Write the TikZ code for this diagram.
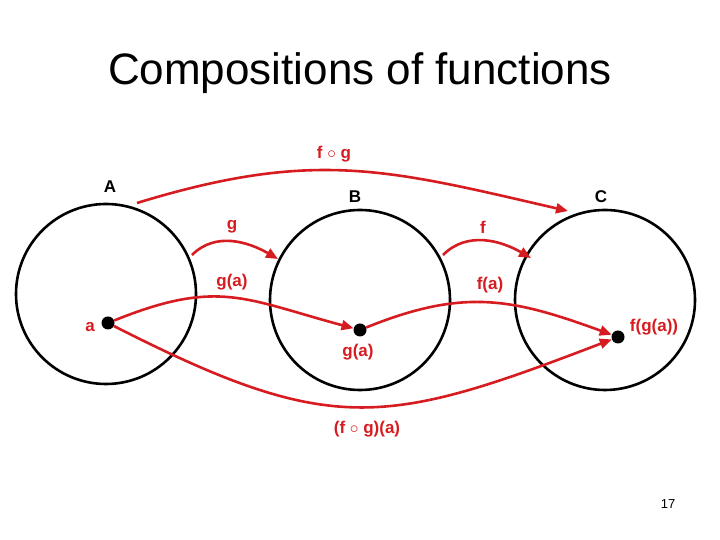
\documentclass[tikz,border=0pt]{standalone}
\usepackage{fontspec}
\setmainfont{Liberation Sans}
\usetikzlibrary{positioning, arrows.meta}
\definecolor{fred}{RGB}{214,28,32}

\begin{document}
\begin{tikzpicture}[x=1pt, y=1pt,
    set/.style={draw=black, line width=2.6pt, circle, minimum size=180pt, inner sep=0pt},
    dot/.style={fill=black, circle, minimum size=13pt, inner sep=0pt},
    map/.style={draw=fred, line width=2.6pt, -{Triangle[length=12pt,width=10pt]}},
    lbl/.style={text=fred, font=\fontsize{17}{20}\selectfont\bfseries},
    setname/.style={font=\fontsize{17}{20}\selectfont\bfseries}]
    \useasboundingbox (0,0) rectangle (720,540);

    % Title
    \node[anchor=base, font=\fontsize{44}{50}\selectfont] (title) at (360,455) {Compositions of functions};

    % Sets A, B, C
    \node[set] (setA) at (106,246) {};
    \node[set] (setB) at (360,240) {};
    \node[set] (setC) at (605,240) {};
    \node[setname] (nameA) at (110,353) {A};
    \node[setname] (nameB) at (355,343) {B};
    \node[setname] (nameC) at (601,343) {C};

    % Elements
    \node[dot] (a) at (108,217) {};
    \node[dot] (ga) at (360,210) {};
    \node[dot] (fga) at (618,203) {};
    \node[lbl] (la) at (90,213) {a};
    \node[lbl] (lga) at (358,188) {g(a)};
    \node[lbl] (lfga) at (654,213) {f(g(a))};

    % Maps between the sets
    \coordinate (fgs) at (137,337);
    \coordinate (fge) at (568,329);
    \draw[map] (fgs) to[out=17, in=167, looseness=1.1] (fge);
    \node[lbl] (lfg) at (334,386) {f $\circ$ g};

    \coordinate (gs) at (192,285);
    \coordinate (ge) at (278,281);
    \draw[map] (gs) to[out=45, in=150] (ge);
    \node[lbl] (lg) at (232,313) {g};

    \coordinate (fs) at (443,285);
    \coordinate (fe) at (531,282);
    \draw[map] (fs) to[out=45, in=150] (fe);
    \node[lbl] (lf) at (483,313) {f};

    % Images of a
    \draw[map] (a) to[out=22, in=165, looseness=1.2] (ga);
    \node[lbl] (lga2) at (232,258) {g(a)};
    \draw[map] (ga) to[out=22, in=160, looseness=1.1] (fga);
    \node[lbl] (lfa) at (490,255) {f(a)};
    \draw[map] (a) to[out=-27, in=201, looseness=1.25] (fga);
    \node[lbl] (lfog) at (367,111) {(f $\circ$ g)(a)};

    % Page number
    \node[font=\fontsize{13}{15}\selectfont] (page) at (668,36) {17};
\end{tikzpicture}
\end{document}
